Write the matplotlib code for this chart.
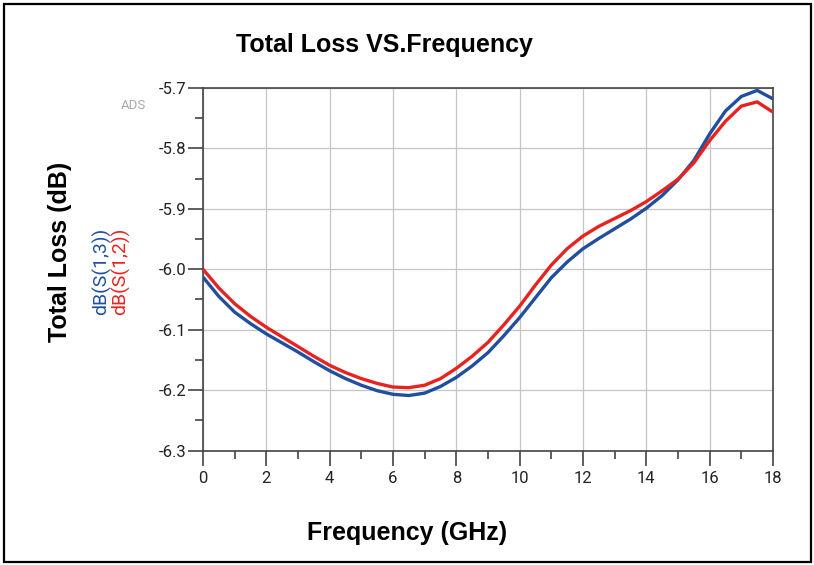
import matplotlib
matplotlib.use('Agg')
from matplotlib import pyplot as plt
from matplotlib.patches import Rectangle
from matplotlib.ticker import MultipleLocator

freq = [0, 0.5, 1, 1.5, 2, 2.5, 3, 3.5, 4, 4.5, 5, 5.5, 6, 6.5, 7, 7.5, 8, 8.5,
        9, 9.5, 10, 10.5, 11, 11.5, 12, 12.5, 13, 13.5, 14, 14.5, 15, 15.5,
        16, 16.5, 17, 17.5, 18]

s13 = [-6.013, -6.045, -6.071, -6.090, -6.107, -6.122, -6.137, -6.153, -6.168,
       -6.181, -6.192, -6.201, -6.207, -6.209, -6.205, -6.194, -6.179, -6.160,
       -6.138, -6.110, -6.080, -6.047, -6.014, -5.988, -5.966, -5.949, -5.933,
       -5.917, -5.899, -5.878, -5.852, -5.820, -5.776, -5.738, -5.714, -5.704,
       -5.718]

s12 = [-6.000, -6.031, -6.057, -6.078, -6.096, -6.112, -6.128, -6.144, -6.159,
       -6.171, -6.181, -6.189, -6.195, -6.196, -6.192, -6.181, -6.164, -6.144,
       -6.121, -6.092, -6.061, -6.026, -5.993, -5.966, -5.945, -5.929, -5.916,
       -5.903, -5.888, -5.870, -5.851, -5.824, -5.787, -5.755, -5.730, -5.723,
       -5.740]

blue = '#1f4f9e'
red = '#e8231f'

fig = plt.figure(figsize=(8.14, 5.65), dpi=100)
ax = fig.add_axes([203 / 814, 1 - 450.5 / 565, 570 / 814, 362.5 / 565])

ax.plot(freq, s13, color=blue, lw=2.4, zorder=3, solid_capstyle='butt')
ax.plot(freq, s12, color=red, lw=2.4, zorder=3, solid_capstyle='butt')

ax.set_xlim(0, 18)
ax.set_ylim(-6.3, -5.7)
ax.xaxis.set_major_locator(MultipleLocator(2))
ax.xaxis.set_minor_locator(MultipleLocator(1))
ax.yaxis.set_major_locator(MultipleLocator(0.1))
ax.yaxis.set_minor_locator(MultipleLocator(0.05))
ax.yaxis.set_major_formatter(plt.FuncFormatter(lambda v, p: '%.1f' % v))
ax.grid(True, which='major', color='#c4c4c4', lw=0.9)

for s in ax.spines.values():
    s.set_color('#444444')
    s.set_linewidth(1.2)

ax.tick_params(axis='x', which='major', direction='out', length=11, width=1.1,
               color='#333333', labelsize=12, pad=4)
ax.tick_params(axis='x', which='minor', direction='out', length=5.5, width=1.1,
               color='#333333')
ax.tick_params(axis='y', which='major', direction='out', length=11, width=1.1,
               color='#333333', labelsize=12, pad=1)
ax.tick_params(axis='y', which='minor', direction='out', length=5.5, width=1.1,
               color='#333333')
for lab in ax.get_xticklabels() + ax.get_yticklabels():
    lab.set_family('Roboto')
    lab.set_color('#222222')

fig.text(384 / 814, 1 - 45 / 565, 'Total Loss VS.Frequency', ha='center',
         va='center', fontsize=18, fontweight='bold', family='Liberation Sans')
fig.text(407 / 814, 1 - 533 / 565, 'Frequency (GHz)', ha='center',
         va='center', fontsize=18, fontweight='bold', family='Liberation Sans')
fig.text(60 / 814, 1 - 252 / 565, 'Total Loss (dB)', ha='center',
         va='center', rotation=90, fontsize=18, fontweight='bold',
         family='Liberation Sans')

fig.text(102 / 814, 1 - 271 / 565, 'dB(S(1,3))', ha='center', va='center',
         rotation=90, fontsize=14, color=blue, family='Roboto')
fig.text(121 / 814, 1 - 271 / 565, 'dB(S(1,2))', ha='center', va='center',
         rotation=90, fontsize=14, color=red, family='Roboto')
fig.text(133 / 814, 1 - 105 / 565, 'ADS', ha='center', va='center',
         fontsize=9.5, color='#a8a8a8', family='Roboto')

fig.patches.append(Rectangle((4 / 814, 3 / 565), 807 / 814, 558 / 565,
                             transform=fig.transFigure, fill=False,
                             edgecolor='black', lw=1.6))

fig.savefig('out.png', dpi=100)
